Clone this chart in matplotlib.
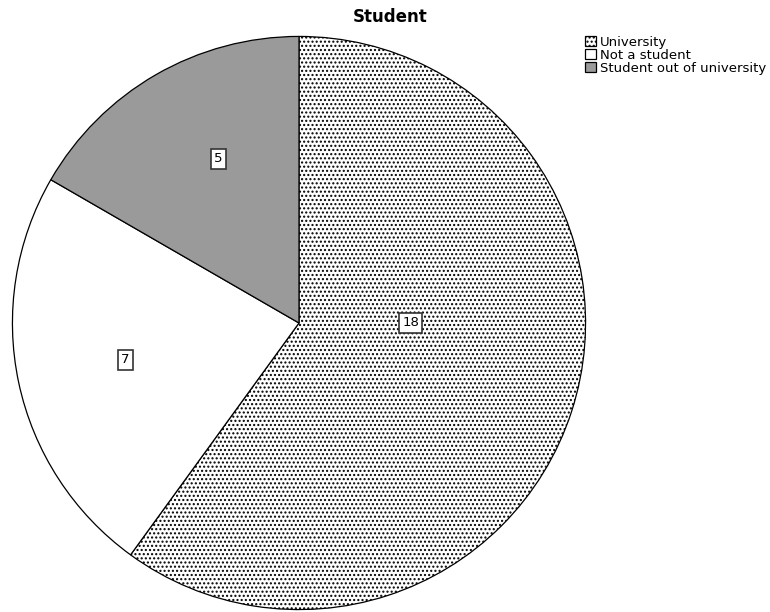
import matplotlib.pyplot as plt
import matplotlib as mpl

categories = ['University', 'Not a student', 'Student out of university']
counts = [18, 7, 5]
colors = ['white', 'white', '#9a9a9a']
hatches = ['....', None, None]
# label positions in pie units (where the boxed counts sit)
label_pos = [(0.39, 0.0), (-0.607, -0.129), (-0.281, 0.573)]

mpl.rcParams['hatch.color'] = '#a8a8a8'
mpl.rcParams['hatch.linewidth'] = 1.0

fig = plt.figure(figsize=(7.7, 6.12), dpi=100)
ax = fig.add_axes([11/770, (612-323-288)/612, 576/770, 576/612])

wedges, _ = ax.pie(counts, colors=colors, startangle=90, counterclock=False,
                   radius=1, wedgeprops=dict(edgecolor='black', linewidth=0.9))
for w, h in zip(wedges, hatches):
    if h:
        w.set_hatch(h)
ax.set_xlim(-1.005, 1.005)
ax.set_ylim(-1.005, 1.005)
ax.set_aspect('auto')
ax.axis('off')

for (x, y), c in zip(label_pos, counts):
    ax.text(x, y, str(c), ha='center', va='center', fontsize=9.5,
            bbox=dict(boxstyle='square,pad=0.25', fc='white', ec='#333333', lw=1.2))

fig.text(390/770, 1 - 17/612, 'Student', ha='center', va='center',
         fontsize=12, fontweight='bold')

fig.legend(wedges, categories, loc='upper left', bbox_to_anchor=(585/770, 1 - 36/612),
           frameon=False, fontsize=9.5, handlelength=0.8, handleheight=0.8,
           handletextpad=0.3, labelspacing=0.0, borderpad=0, borderaxespad=0)

fig.savefig('out.png', dpi=100)
